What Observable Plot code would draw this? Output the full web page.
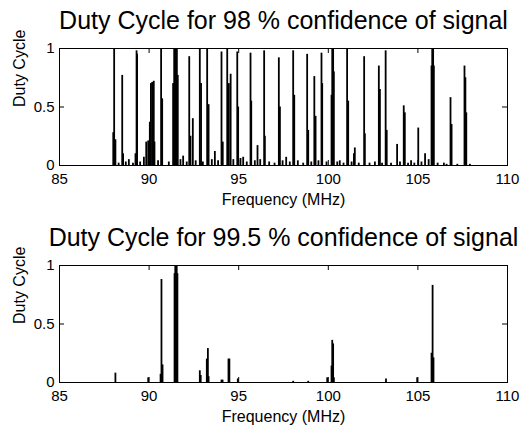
<!DOCTYPE html>
<html>
<head>
<meta charset="utf-8">
<script src="https://cdn.jsdelivr.net/npm/d3@7"></script>
<script src="https://cdn.jsdelivr.net/npm/@observablehq/plot@0.6"></script>
<style>
  html, body { margin: 0; padding: 0; background: #fff; }
  #chart svg { display: block; }
</style>
</head>
<body>
<div id="chart"></div>
<script>
// ---- data ----
const title98 = "Duty Cycle for 98 % confidence of signal";
const title995 = "Duty Cycle for 99.5 % confidence of signal";
const xLabel = "Frequency (MHz)";
const yLabel = "Duty Cycle";
const xTicks = [85, 90, 95, 100, 105, 110];
const yTicks = [0, 0.5, 1];

const freq98 = [88.00, 88.05, 88.12, 88.30, 88.50, 88.55, 88.70, 88.87, 89.10, 89.24, 89.30, 89.33, 89.50, 89.71, 89.84, 89.95,
  90.04, 90.10, 90.17, 90.26, 90.30, 90.50, 90.67, 90.73, 91.10, 91.34, 91.40, 91.45, 91.50, 91.55, 91.60, 91.75, 91.90,
  92.10, 92.24, 92.31, 92.44, 92.60, 92.83, 92.90, 93.00, 93.24, 93.32, 93.50, 93.67, 93.85, 94.04, 94.11, 94.36, 94.45,
  94.55, 94.70, 94.92, 94.97, 95.10, 95.25, 95.45, 95.66, 95.70, 95.90, 96.05, 96.20, 96.42, 96.46, 96.70, 97.00, 97.24,
  97.30, 97.45, 97.65, 97.85, 98.04, 98.10, 98.30, 98.60, 98.82, 98.88, 99.05, 99.22, 99.29, 99.45, 99.62, 99.66, 99.90,
  100.18, 100.22, 100.27, 100.31, 100.50, 100.64, 100.85, 101.05, 101.11, 101.30, 101.43, 101.48, 101.70, 102.00, 102.04,
  102.30, 102.60, 102.82, 102.88, 103.00, 103.20, 103.26, 103.50, 103.84, 104.00, 104.21, 104.27, 104.45, 104.62, 104.80,
  105.02, 105.20, 105.40, 105.60, 105.76, 105.80, 105.85, 105.89, 106.10, 106.45, 106.60, 106.82, 106.88, 107.20, 107.60,
  107.65, 107.70, 107.90];
const duty98 = [0.28, 1.00, 0.22, 0.02, 0.77, 0.10, 0.03, 0.05, 0.02, 0.10, 0.98, 0.95, 0.03, 0.07, 0.20, 0.21,
  0.37, 0.70, 0.71, 0.72, 0.20, 0.04, 1.00, 0.57, 0.03, 0.70, 1.00, 1.00, 1.00, 1.00, 0.77, 0.05, 0.08,
  0.03, 0.93, 0.25, 0.40, 0.04, 1.00, 0.70, 0.03, 1.00, 0.52, 0.05, 0.12, 0.04, 0.97, 0.20, 1.00, 0.70,
  0.78, 0.05, 0.97, 0.50, 0.06, 0.07, 0.03, 0.96, 0.55, 0.04, 0.17, 0.05, 0.98, 0.25, 0.03, 0.02, 0.92,
  0.50, 0.04, 0.07, 0.03, 0.98, 0.60, 0.04, 0.02, 0.95, 0.30, 0.03, 0.76, 0.42, 0.04, 0.96, 0.70, 0.03,
  0.60, 1.00, 1.00, 0.80, 0.03, 0.04, 0.02, 1.00, 0.55, 0.03, 0.10, 0.15, 0.02, 0.93, 0.27,
  0.02, 0.03, 0.85, 0.65, 0.02, 0.98, 0.30, 0.02, 0.18, 0.03, 0.51, 0.45, 0.02, 0.04, 0.02,
  0.32, 0.03, 0.10, 0.05, 0.85, 1.00, 1.00, 0.85, 0.02, 0.02, 0.01, 0.58, 0.35, 0.01, 0.85,
  0.75, 0.45, 0.01];

const freq995 = [88.12, 89.95, 90.64, 90.69, 90.75, 91.42, 91.46, 91.50, 91.54, 91.58, 92.83, 92.88, 93.22, 93.28, 93.32,
  94.04, 94.10, 94.43, 94.48, 94.95, 98.04, 98.88, 99.94, 100.18, 100.22, 100.27, 100.31, 103.22, 104.96, 105.76, 105.82, 105.87];
const duty995 = [0.08, 0.04, 0.07, 0.88, 0.15, 0.93, 1.00, 1.00, 1.00, 0.93, 0.10, 0.06, 0.20, 0.29, 0.05,
  0.02, 0.02, 0.20, 0.20, 0.03, 0.01, 0.01, 0.04, 0.14, 0.36, 0.33, 0.04, 0.03, 0.04, 0.25, 0.83, 0.21];

// ---- drawing ----
const W = 521, H = 218, mL = 59, mR = 14;

function panel(title, freq, duty, marginTop, marginBottom) {
  const plotH = H - marginTop - marginBottom;
  const plotW = W - mL - mR;
  const rows = freq.map((f, i) => ({f, d: duty[i]}));
  return Plot.plot({
    width: W, height: H,
    marginTop, marginBottom, marginLeft: mL, marginRight: mR,
    style: {fontFamily: "'Liberation Sans', Arial, sans-serif", fontSize: "15px", background: "#fff", color: "#000"},
    x: {domain: [85, 110]},
    y: {domain: [0, 1]},
    marks: [
      Plot.ruleX(rows, {x: "f", y1: 0, y2: "d", stroke: "#000", strokeWidth: 1.8}),
      Plot.frame({stroke: "#000", strokeWidth: 1}),
      // inward ticks on all four sides
      Plot.ruleX(xTicks, {x: d => d, insetTop: plotH - 5, stroke: "#000"}),
      Plot.ruleX(xTicks, {x: d => d, insetBottom: plotH - 5, stroke: "#000"}),
      Plot.ruleY(yTicks, {y: d => d, insetRight: plotW - 5, stroke: "#000"}),
      Plot.ruleY(yTicks, {y: d => d, insetLeft: plotW - 5, stroke: "#000"}),
      Plot.axisX({ticks: xTicks, tickSize: 0, tickPadding: 8, fontSize: 15, label: null}),
      Plot.axisY({ticks: yTicks, tickSize: 0, tickPadding: 5, fontSize: 15, label: null, tickFormat: d => String(d)}),
      Plot.text([title], {text: d => d, frameAnchor: "top", dy: -19.5, lineAnchor: "bottom", fontSize: 25, fill: "#000"}),
      Plot.text([xLabel], {text: d => d, frameAnchor: "bottom", dy: 39, lineAnchor: "bottom", fontSize: 16, fill: "#000"}),
      Plot.text([yLabel], {text: d => d, frameAnchor: "left", dx: -39.5, rotate: -90, lineAnchor: "middle", fontSize: 16, fill: "#000"})
    ]
  });
}

const root = document.getElementById("chart");
root.append(panel(title98, freq98, duty98, 48, 53));
root.append(panel(title995, freq995, duty995, 47, 54));
</script>
</body>
</html>
